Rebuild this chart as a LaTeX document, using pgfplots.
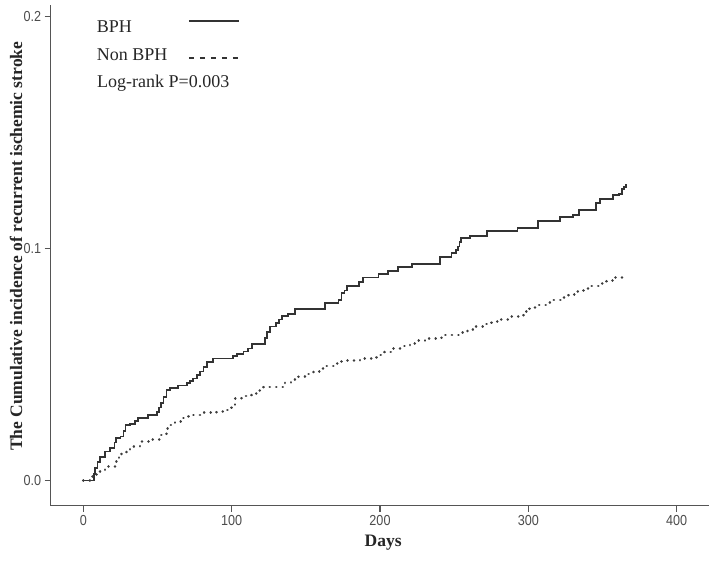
\documentclass[border=0pt]{standalone}
\usepackage{fontspec}
\setmainfont{Liberation Serif}
\newfontfamily\tickfont[FakeStretch=0.87]{Liberation Sans}
\usepackage{pgfplots}
\pgfplotsset{compat=1.18}
\definecolor{axgray}{HTML}{555555}
\definecolor{bph}{HTML}{333333}
\definecolor{nonbph}{HTML}{3C3C3C}

\begin{document}
\begin{tikzpicture}
\path[use as bounding box] (0,0) rectangle (720pt,560pt);
\begin{axis}[
  at={(50.7pt,54.3pt)}, anchor=south west,
  scale only axis, width=658.3pt, height=500.7pt,
  xmin=-22, xmax=421.8, ymin=-0.0108, ymax=0.205,
  axis x line*=bottom, axis y line*=left,
  axis line style={-, line width=1.3pt, axgray},
  every outer x axis line/.append style={-},
  every outer y axis line/.append style={-},
  tick align=outside, major tick length=6pt,
  tick style={line width=1.2pt, axgray},
  xtick={0,100,200,300,400}, ytick={0,0.1,0.2},
  yticklabel style={/pgf/number format/fixed, /pgf/number format/fixed zerofill, /pgf/number format/precision=1},
  /pgf/number format/assume math mode=true,
  tick label style={font=\tickfont\fontsize{14.5}{14.5}\selectfont, text=black!70},
  label style={font=\bfseries\fontsize{17.5}{17.5}\selectfont, text=black!85},
  xlabel={Days},
  xlabel style={at={(axis description cs:0.505,0)}, anchor=center, yshift=-37pt},
  ylabel={The Cumulative incidence of recurrent ischemic stroke},
  ylabel style={at={(axis description cs:-0.0527,0.518)}, anchor=center},
  legend plot pos=right, legend cell align=left,
  legend style={at={(axis description cs:0.0703,0.970)}, anchor=north west,
    draw=none, fill=none, inner sep=0pt, outer sep=0pt,
    font=\fontsize{18}{18}\selectfont, text=black!85,
    row sep=12.5pt, column sep=20.5pt,
    nodes={inner sep=0pt, text height=12pt, text depth=3pt}},
]
\addlegendimage{legend image code/.code={\draw[bph, line width=1.6pt] (0pt,7.5pt) -- (50pt,7.5pt);}}
\addlegendentry{BPH}
\addlegendimage{legend image code/.code={\draw[bph, line width=1.8pt, dash pattern=on 5pt off 6pt] (0pt,-2.5pt) -- (50pt,-2.5pt);}}
\addlegendentry{Non BPH}

% BPH
\addplot[const plot, bph, line width=1.7pt, forget plot] coordinates {
(0,0) (7,0.003) (8,0.0055) (9.5,0.008) (11,0.0103) (14.5,0.0125) (18,0.014)
(21,0.0165) (22,0.0184) (25,0.019) (27,0.0215) (28.5,0.024) (31.5,0.0245)
(35,0.0258) (37,0.027) (43.8,0.0283) (49.5,0.0297) (51,0.0315) (52.5,0.0335)
(54,0.036) (56,0.039) (58.4,0.040) (64,0.041) (69.7,0.042) (72,0.043)
(74,0.044) (76.5,0.0455) (78.7,0.047) (81,0.049) (83.2,0.051) (87.6,0.0527)
(101,0.0537) (103.4,0.0546) (108,0.0557) (111,0.057) (113.5,0.059)
(122.5,0.0614) (124,0.064) (125.8,0.0664) (130,0.0678) (132,0.0695)
(133.7,0.0711) (138,0.0718) (142.7,0.0739) (163,0.0767) (172,0.078)
(174,0.0808) (176,0.082) (177.6,0.0839) (186,0.0855) (188.7,0.0875)
(198.9,0.089) (205.6,0.0905) (212.3,0.0922) (221.4,0.0934) (240.4,0.0963)
(248.3,0.098) (251,0.0995) (252.8,0.1009) (253.6,0.1028) (254.4,0.1045)
(260.7,0.1055) (272,0.1075) (292.6,0.1088) (306.7,0.112) (321.3,0.1135)
(330.3,0.1145) (334.3,0.1167) (345.6,0.1198) (348.3,0.1213) (357.3,0.1231)
(361.3,0.1236) (363,0.1256) (364.5,0.1265) (365.8,0.1275) (366,0.1275)
};

% Non BPH
\addplot[const plot, nonbph, line width=2.7pt, line cap=round, dash pattern=on 0.01pt off 6.5pt, forget plot] coordinates {
(0,0) (6,0.002) (9,0.004) (14.6,0.006) (21.4,0.0082) (24,0.010) (25.9,0.0118)
(29,0.0135) (31.5,0.0147) (38.2,0.0168) (45,0.0178) (51.7,0.0197)
(56.2,0.0226) (59,0.024) (61.8,0.0254) (66,0.027) (70.8,0.0283)
(78.7,0.0293) (89.9,0.0297) (96.7,0.0305) (100,0.0319) (102.3,0.0355)
(106.8,0.0365) (113.5,0.0377) (117,0.039) (121.3,0.0403) (136,0.0422)
(140,0.0435) (145,0.0448) (150,0.046) (155,0.047) (160,0.0482) (164,0.0494)
(169,0.0505) (174.2,0.0517) (186.5,0.0527) (197.8,0.0542) (203,0.0555)
(209,0.0571) (214,0.058) (220.2,0.0592) (225,0.0603) (230.3,0.0614)
(241.6,0.0628) (254,0.0638) (259,0.065) (264,0.0664) (270,0.0675)
(275.3,0.0685) (281,0.0696) (286.5,0.0707) (296.6,0.0728) (301,0.0747)
(307,0.0757) (312.4,0.0767) (317,0.0778) (322.5,0.079) (327,0.0802)
(332.6,0.0815) (337,0.0827) (342.7,0.0839) (348,0.085) (352.8,0.0862)
(358.4,0.0877) (365.2,0.0877)
};

\node[anchor=base west, font=\fontsize{18}{18}\selectfont, text=black!85, inner sep=0pt]
  at (axis description cs:0.0703,0.8356) {Log-rank P=0.003};
\end{axis}
\end{tikzpicture}
\end{document}
